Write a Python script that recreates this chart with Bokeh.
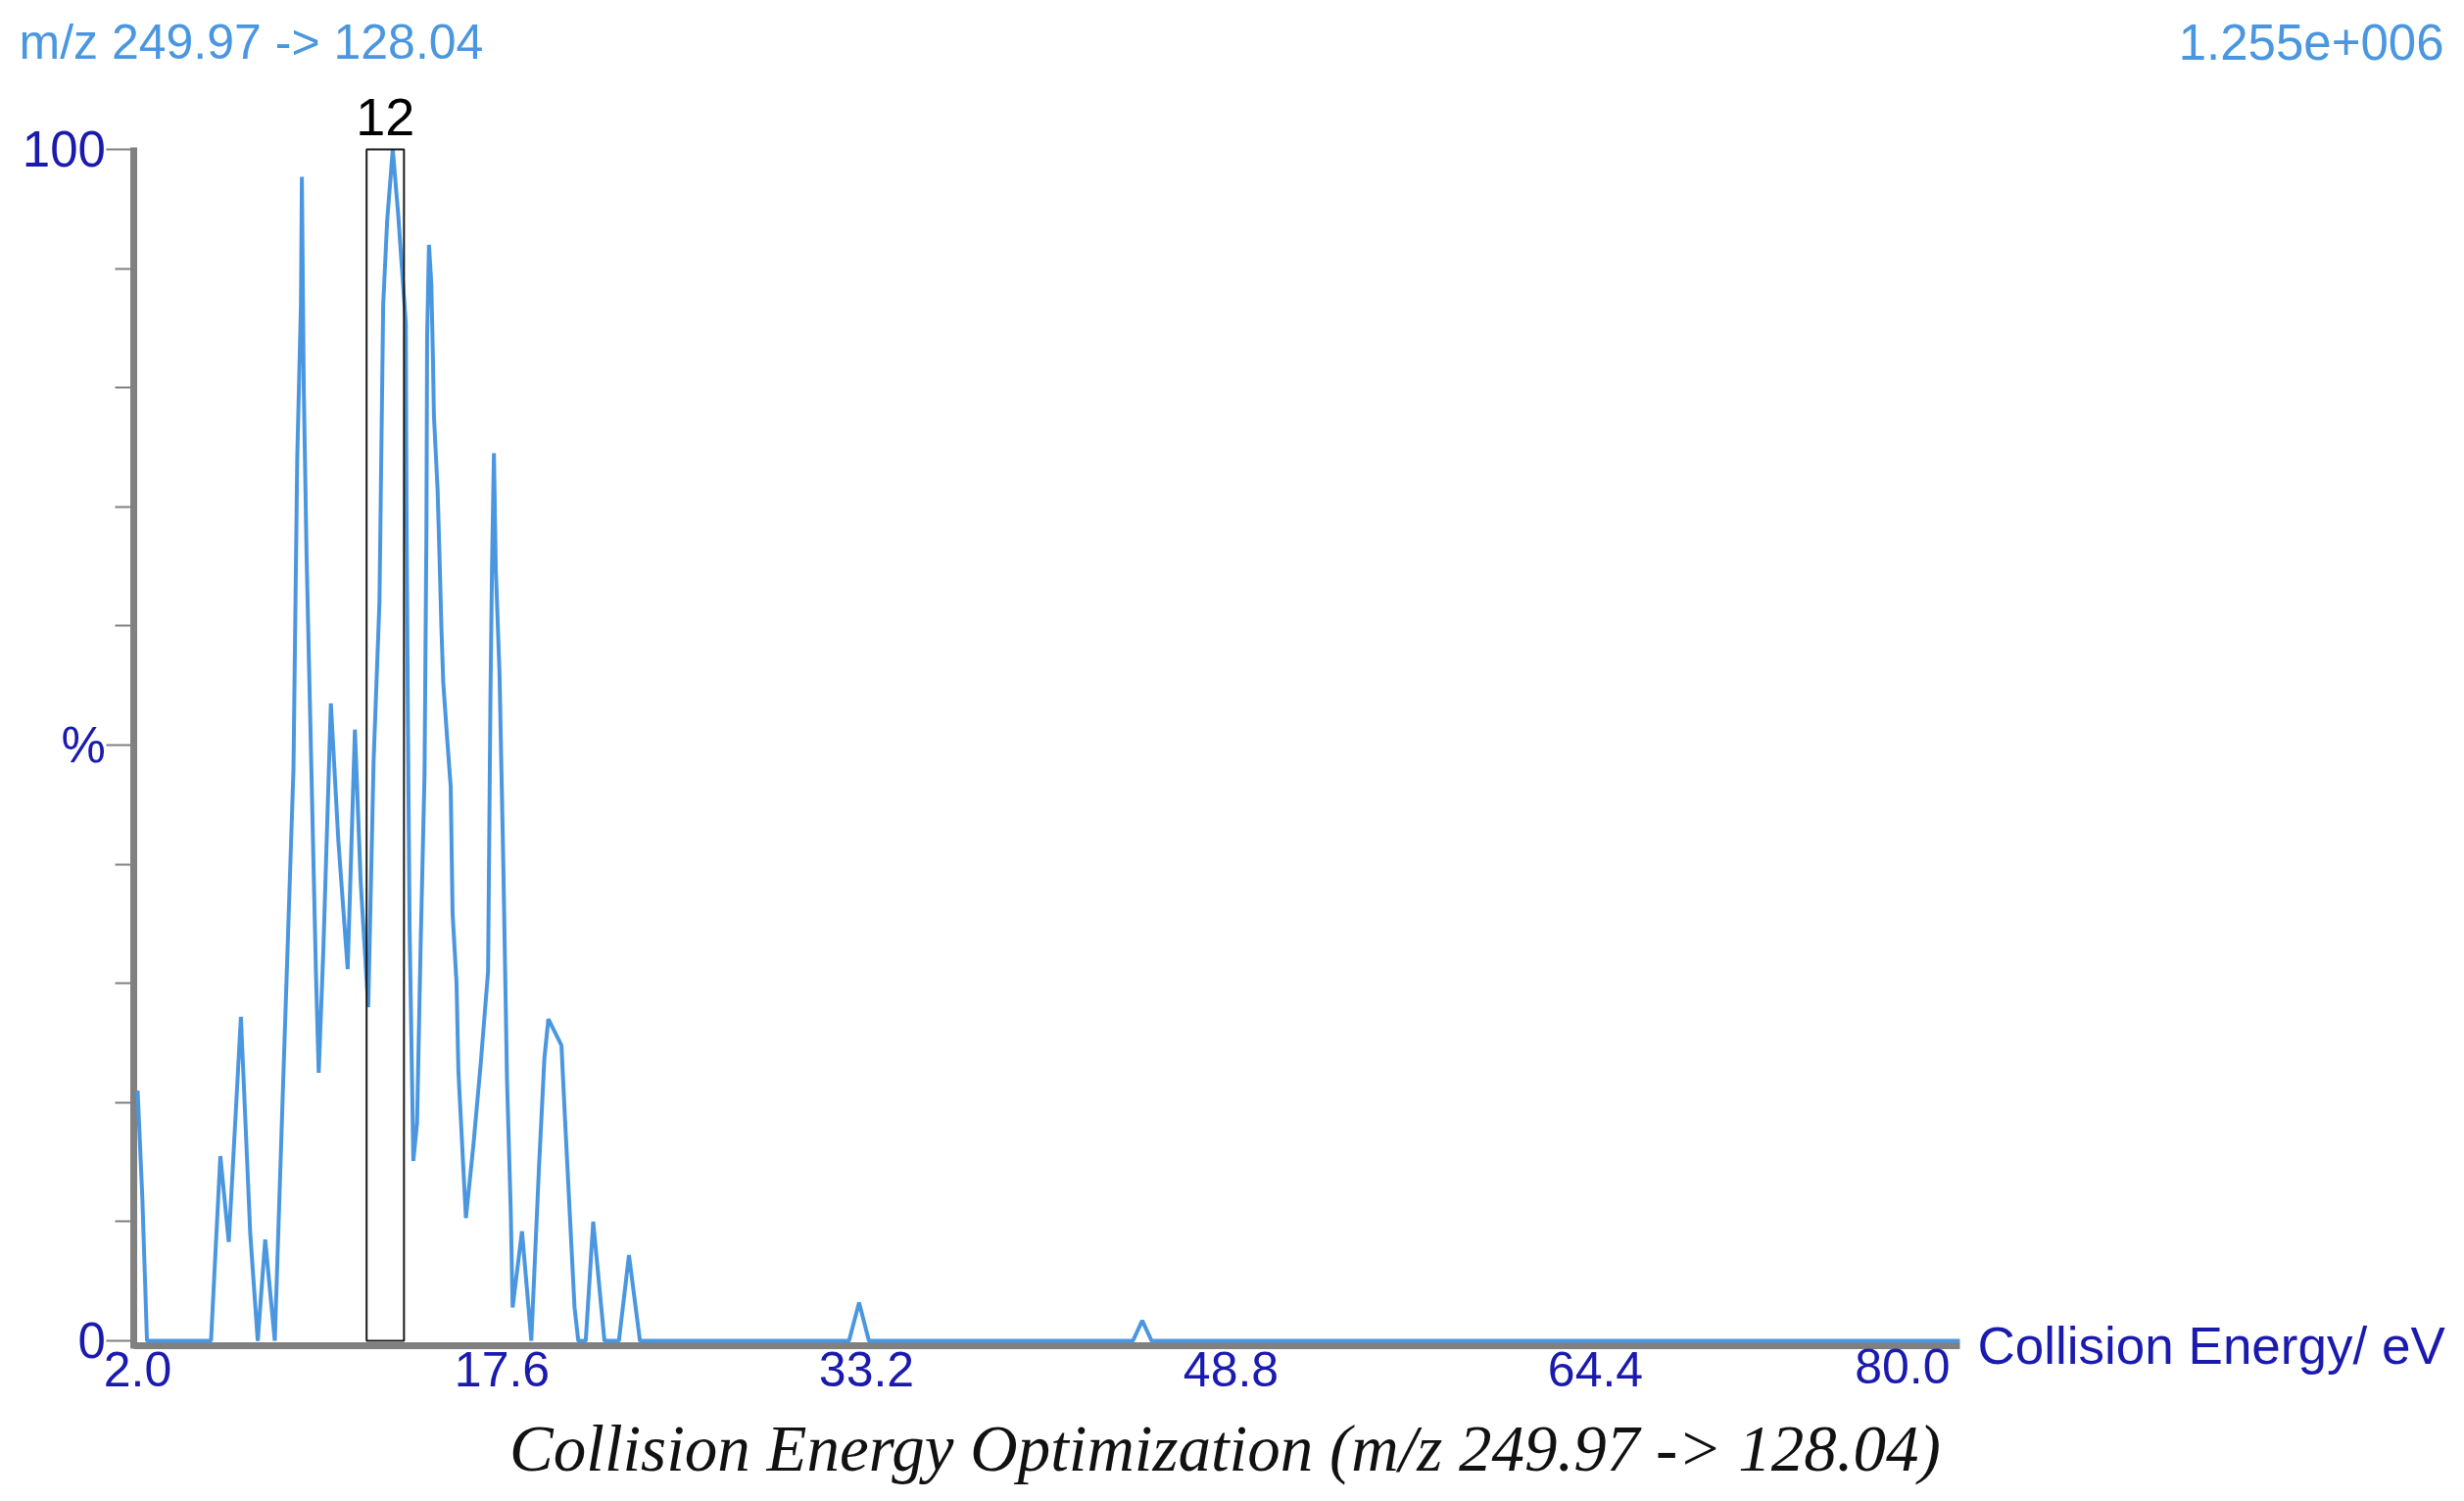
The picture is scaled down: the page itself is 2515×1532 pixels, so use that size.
from bokeh.plotting import figure
from bokeh.models import FixedTicker, PrintfTickFormatter, Label, Range1d
from bokeh.embed import file_html
from bokeh.resources import INLINE

# ---- data ----
energy = [2.0, 2.2, 2.4, 5.14, 5.54, 5.9, 6.42, 6.82, 7.14, 7.46, 7.87, 8.2, 8.67, 8.83,
          8.99, 9.03, 9.11, 9.23, 9.39, 9.63, 9.75, 9.95, 10.27, 10.59, 10.99, 11.3, 11.55,
          11.87, 12.1, 12.35, 12.51, 12.68, 12.92, 13.15, 13.32, 13.48, 13.51, 13.57, 13.64,
          13.8, 13.96, 14.11, 14.28, 14.36, 14.39, 14.47, 14.57, 14.64, 14.68, 14.84, 14.92,
          15.0, 15.08, 15.25, 15.4, 15.48, 15.65, 15.73, 16.05, 16.37, 16.69, 17.0, 17.05,
          17.1, 17.17, 17.25, 17.33, 17.49, 17.57, 17.65, 17.81, 17.97, 18.05, 18.45, 18.7,
          18.85, 19.18, 19.41, 19.58, 20.14, 20.3, 20.7, 20.86, 21.18, 21.5, 21.98, 22.6,
          23.03, 23.5, 32.45, 32.88, 33.3, 44.6, 45.0, 45.4, 80.0]
intensity = [21.0, 12.0, 0.0, 0.0, 15.5, 8.3, 27.2, 9.0, 0.0, 8.5, 0.0, 20.0, 48.0, 74.0,
             87.0, 97.7, 80.0, 66.0, 52.0, 31.0, 22.5, 32.9, 53.5, 42.0, 31.2, 51.3, 38.4,
             28.0, 48.7, 62.0, 87.0, 94.0, 100.0, 94.6, 89.8, 85.4, 68.9, 51.6, 34.7,
             15.1, 18.3, 32.9, 47.6, 67.8, 84.3, 92.0, 88.7, 82.4, 77.7, 71.4, 65.9,
             60.0, 55.3, 50.5, 46.5, 35.9, 30.0, 22.6, 10.3, 16.4, 23.4, 31.0, 42.4,
             53.8, 65.2, 74.5, 64.8, 56.0, 48.0, 40.2, 21.9, 10.9, 2.8, 9.2, 3.5,
             0.0, 14.6, 23.7, 27.0, 24.8, 18.3, 2.8, 0.0, 0.0, 10.0, 0.0, 0.0,
             7.2, 0.0, 0.0, 3.2, 0.0, 0.0, 1.7, 0.0, 0.0]
x_ticks = [2.0, 17.6, 33.2, 48.8, 64.4, 80.0]
y_major = [0, 50, 100]
y_minor = [10, 20, 30, 40, 60, 70, 80, 90]
y_labels = {0: "0", 50: "%", 100: "100"}
peak_label = "12"
peak_window = [11.8, 13.4]
title_left = "m/z 249.97 -> 128.04"
title_right = "1.255e+006"
x_title = "Collision Energy/ eV"
caption = "Collision Energy Optimization (m/z 249.97 -> 128.04)"

# ---- layout (canvas pixels) ----
W, H = 2507, 1524
X0_PX, X1_PX = 140, 2000      # where x = 2 and x = 80 fall
Y100_PX, Y0_PX = 152, 1368    # where y = 100 and y = 0 fall
kx = (X1_PX - X0_PX) / (x_ticks[-1] - x_ticks[0])
ky = (Y0_PX - Y100_PX) / 100.0
x_start = x_ticks[0] - X0_PX / kx
x_end = x_ticks[-1] + (W - X1_PX) / kx
y_end = 100 + Y100_PX / ky
y_start = -(H - Y0_PX) / ky

NAVY = "#1a1aae"
LIGHT = "#4a97e0"
GRAY = "#808080"
SANS = "Liberation Sans"

p = figure(width=W, height=H, x_range=Range1d(x_start, x_end), y_range=Range1d(y_start, y_end),
           output_backend="svg", toolbar_location=None, min_border=0)
p.grid.visible = False
p.outline_line_color = None
p.background_fill_color = "white"
p.border_fill_color = "white"

xa = p.xaxis[0]
xa.fixed_location = -0.38
xa.bounds = (1.85, x_ticks[-1])
xa.level = "underlay"
xa.ticker = FixedTicker(ticks=x_ticks[:-1])
xa.formatter = PrintfTickFormatter(format="%.1f")
xa.axis_line_color = GRAY
xa.axis_line_width = 7
xa.major_tick_line_color = None
xa.minor_tick_line_color = None
xa.major_label_text_color = NAVY
xa.major_label_text_font = SANS
xa.major_label_text_font_size = "50px"
xa.major_label_standoff = 1

ya = p.yaxis[0]
ya.fixed_location = 1.85
ya.bounds = (-0.65, 100.2)
ya.level = "underlay"
ya.ticker = FixedTicker(ticks=y_major, minor_ticks=y_minor)
ya.major_label_overrides = y_labels
ya.axis_line_color = GRAY
ya.axis_line_width = 7
ya.major_tick_line_color = GRAY
ya.major_tick_line_width = 2
ya.major_tick_out = 28
ya.major_tick_in = 0
ya.minor_tick_line_color = GRAY
ya.minor_tick_line_width = 2
ya.minor_tick_out = 19
ya.minor_tick_in = 0
ya.major_label_text_color = NAVY
ya.major_label_text_font = SANS
ya.major_label_text_font_size = "51px"
ya.major_label_standoff = 1

p.line(energy, intensity, line_color=LIGHT, line_width=4)
p.quad(left=[peak_window[0]], right=[peak_window[1]], bottom=[0], top=[100],
       fill_color=None, line_color="#1a1a1a", line_width=2)

SHIFT = 19  # rendered baseline sits this much below the requested one


def lab(text, px, py, align, color, size, font=SANS, style="normal", shift=SHIFT):
    p.add_layout(Label(x=px, y=H - py + shift, x_units="screen", y_units="screen", text=text,
                       text_align=align, text_baseline="alphabetic", text_color=color,
                       text_font=font, text_font_style=style, text_font_size=size))


p.add_layout(Label(x=sum(peak_window) / 2, y=100, y_offset=14 + SHIFT, text=peak_label,
                   text_align="center", text_baseline="alphabetic", text_color="black",
                   text_font=SANS, text_font_size="54px"))
p.add_layout(Label(x=x_ticks[-1], x_offset=-10, y=H - 1413 + SHIFT, y_units="screen",
                   text="%.1f" % x_ticks[-1],
                   text_align="right", text_baseline="alphabetic", text_color=NAVY,
                   text_font=SANS, text_font_size="50px"))
lab(title_left, 19, 61, "left", LIGHT, "50px")
lab(title_right, 2494, 61, "right", LIGHT, "51px")
lab(x_title, 2018, 1392, "left", NAVY, "53px")
lab(caption, 1250, 1499, "center", "#111111", "67px", font="Liberation Serif", style="italic",
    shift=22)

open("out.html", "w").write(file_html(p, INLINE))
